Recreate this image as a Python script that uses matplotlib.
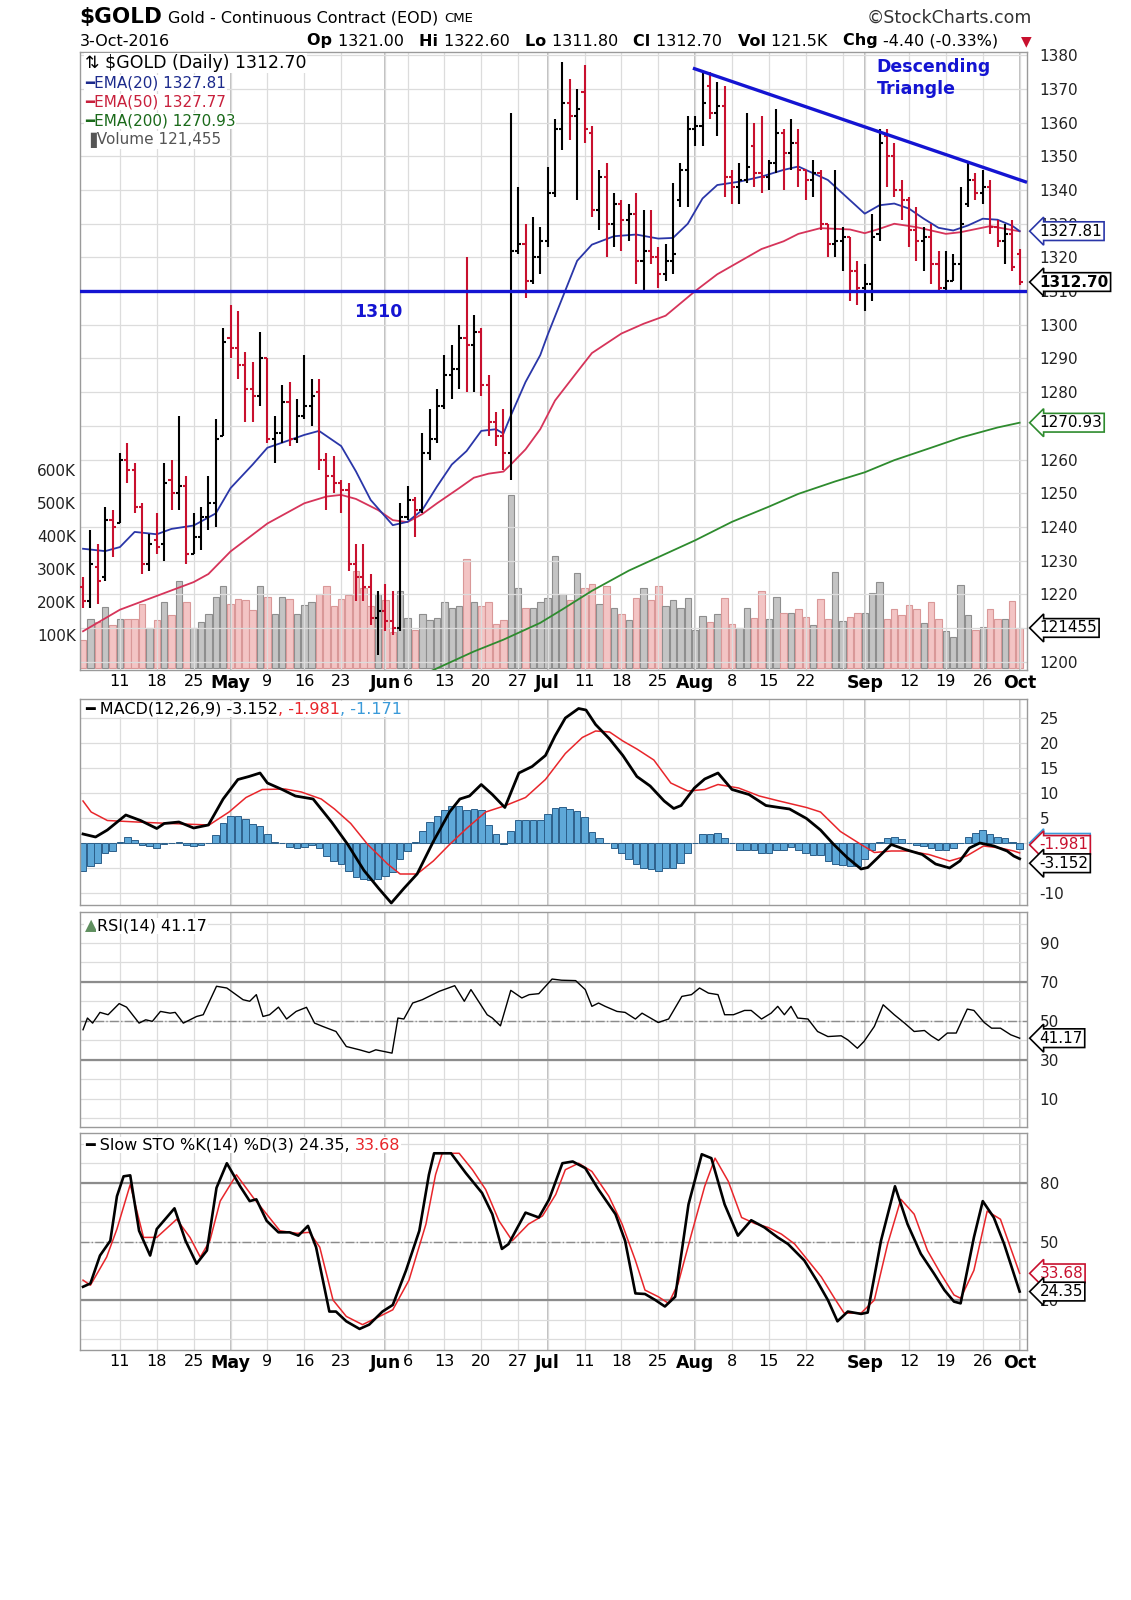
import numpy as np
import pandas as pd
import matplotlib
matplotlib.use("Agg")
import matplotlib.pyplot as plt

# trading days on the chart (Apr 4 - Oct 3 2016, holidays removed)
days = pd.bdate_range("2016-04-04", "2016-10-03")
days = days.drop(pd.to_datetime(["2016-05-30", "2016-07-04", "2016-09-05"]))

opens = [1222, 1218, 1228, 1225, 1242, 1241, 1260, 1257, 1246, 1229,
         1236, 1235, 1254, 1250, 1252, 1232, 1237, 1243, 1247, 1267,
         1296, 1293, 1288, 1281, 1279, 1290, 1266, 1268, 1277, 1266,
         1273, 1276, 1280, 1260, 1255, 1253, 1251, 1229, 1225, 1222,
         1213, 1215, 1212, 1210, 1243, 1248, 1245, 1262, 1266, 1276,
         1285, 1287, 1296, 1294, 1298, 1282, 1271, 1267, 1262, 1322,
         1324, 1313, 1320, 1325, 1339, 1358, 1366, 1362, 1369, 1357,
         1334, 1344, 1330, 1336, 1331, 1333, 1319, 1322, 1320, 1315,
         1319, 1337, 1346, 1358, 1359, 1371, 1363, 1365, 1344, 1341,
         1343, 1353, 1345, 1344, 1348, 1357, 1351, 1354, 1346, 1343,
         1345, 1330, 1324, 1325, 1326, 1316, 1311, 1312, 1327, 1356,
         1350, 1340, 1337, 1328, 1325, 1326, 1318, 1311, 1313, 1318,
         1336, 1343, 1339, 1341, 1329, 1325, 1327, 1321.0]
highs = [1225, 1239, 1235, 1246, 1245, 1262, 1265, 1259, 1247, 1238,
         1244, 1259, 1260, 1273, 1255, 1244, 1246, 1255, 1272, 1299,
         1306, 1304, 1292, 1289, 1298, 1290, 1273, 1282, 1283, 1278,
         1291, 1284, 1284, 1262, 1261, 1254, 1253, 1235, 1235, 1226,
         1221, 1223, 1221, 1247, 1252, 1249, 1268, 1275, 1281, 1291,
         1294, 1300, 1320, 1303, 1299, 1285, 1274, 1275, 1363, 1341,
         1330, 1332, 1329, 1347, 1361, 1378, 1373, 1370, 1377, 1359,
         1346, 1348, 1339, 1337, 1336, 1339, 1334, 1334, 1323, 1324,
         1342, 1348, 1362, 1362, 1375, 1375, 1372, 1371, 1346, 1348,
         1363, 1360, 1362, 1349, 1364, 1358, 1361, 1358, 1346, 1349,
         1346, 1330, 1346, 1329, 1326, 1319, 1318, 1333, 1358, 1358,
         1354, 1343, 1338, 1335, 1329, 1330, 1322, 1322, 1321, 1341,
         1348, 1345, 1346, 1343, 1331, 1330, 1331, 1322.6]
lows = [1216, 1216, 1217, 1224, 1231, 1241, 1253, 1244, 1226, 1227,
        1232, 1230, 1245, 1245, 1229, 1232, 1233, 1239, 1240, 1267,
        1290, 1284, 1271, 1271, 1276, 1265, 1259, 1265, 1264, 1265,
        1272, 1270, 1257, 1245, 1250, 1244, 1227, 1218, 1218, 1211,
        1202, 1209, 1208, 1209, 1242, 1237, 1244, 1260, 1265, 1275,
        1278, 1281, 1280, 1280, 1279, 1267, 1264, 1257, 1254, 1321,
        1308, 1312, 1315, 1323, 1338, 1352, 1355, 1337, 1354, 1332,
        1328, 1320, 1323, 1322, 1325, 1312, 1310, 1318, 1311, 1313,
        1315, 1335, 1335, 1353, 1353, 1361, 1356, 1338, 1336, 1336,
        1342, 1341, 1339, 1340, 1345, 1340, 1346, 1341, 1337, 1338,
        1328, 1320, 1320, 1316, 1307, 1306, 1304, 1307, 1325, 1341,
        1338, 1331, 1323, 1319, 1316, 1312, 1310, 1310, 1313, 1310,
        1335, 1337, 1336, 1327, 1323, 1318, 1316, 1311.8]
closes = [1218, 1229, 1224, 1242, 1240, 1260, 1257, 1246, 1229, 1235,
          1234, 1253, 1250, 1252, 1232, 1237, 1243, 1247, 1266, 1295,
          1293, 1288, 1281, 1279, 1290, 1266, 1268, 1277, 1266, 1273,
          1276, 1279, 1260, 1255, 1253, 1251, 1229, 1225, 1222, 1213,
          1215, 1212, 1210, 1243, 1248, 1245, 1262, 1266, 1276, 1285,
          1287, 1296, 1294, 1298, 1282, 1271, 1267, 1262, 1322, 1324,
          1313, 1320, 1325, 1339, 1358, 1366, 1362, 1364, 1358, 1334,
          1344, 1330, 1336, 1331, 1333, 1319, 1322, 1320, 1315, 1319,
          1321, 1346, 1358, 1359, 1366, 1363, 1365, 1344, 1341, 1343,
          1347, 1345, 1344, 1348, 1357, 1351, 1354, 1346, 1343, 1345,
          1330, 1324, 1325, 1326, 1316, 1311, 1312, 1326, 1354, 1350,
          1340, 1337, 1328, 1325, 1326, 1318, 1311, 1313, 1318, 1330,
          1343, 1339, 1341, 1329, 1325, 1327, 1317.1, 1312.7]
# volume in thousands
volume = [85, 150, 140, 185, 130, 150, 150, 150, 195, 120,
          145, 200, 160, 265, 200, 120, 140, 165, 215, 250,
          195, 210, 205, 175, 250, 215, 165, 215, 210, 165,
          190, 200, 225, 250, 189, 210, 220, 293, 244, 189,
          225, 207, 110, 232, 152, 116, 165, 146, 152, 200,
          183, 189, 329, 200, 189, 200, 134, 146, 524, 244,
          183, 183, 200, 213, 341, 225, 207, 287, 244, 256,
          195, 250, 183, 165, 146, 213, 244, 207, 250, 189,
          207, 183, 213, 116, 159, 140, 165, 213, 134, 122,
          183, 152, 232, 150, 216, 167, 167, 179, 154, 130,
          210, 148, 290, 142, 154, 167, 167, 228, 262, 148,
          179, 160, 191, 179, 136, 200, 148, 111, 93, 253,
          160, 115, 123, 179, 148, 148, 204, 121.455]

# moving averages (day index, value)
ema20_day = [0, 3, 5, 7, 10, 12, 15, 18, 20, 23, 25, 27, 30, 32, 35, 37, 39, 42, 44, 46,
             48, 50, 52, 54, 56, 57, 58, 60, 62, 63, 65, 67, 69, 72, 75, 78, 80, 82, 84, 86,
             89, 92, 95, 97, 99, 101, 104, 106, 108, 110, 112, 114, 116, 118, 120, 122, 124, 126, 127]
ema20_val = [1233.5, 1232.8, 1234, 1238.5, 1237.8, 1239.4, 1240.4, 1244, 1251.5, 1258.5,
             1263.5, 1265, 1267.3, 1268.5, 1264, 1256.5, 1248, 1240.5, 1241.5, 1245,
             1252, 1258.5, 1262.5, 1268.5, 1269, 1267.7, 1273, 1283, 1291, 1297,
             1308, 1319, 1323.8, 1326.3, 1326.8, 1325.6, 1325.8, 1330, 1337.5, 1341.5,
             1342.5, 1344, 1346, 1347, 1345, 1343, 1337, 1333, 1335.5, 1336,
             1334.5, 1331.5, 1328.8, 1328, 1329.5, 1331.5, 1331.2, 1329.4, 1327.81]
ema50_day = [0, 5, 10, 15, 17, 20, 25, 30, 33, 35, 37, 40, 42, 44, 46, 48, 51, 53, 55, 57,
             58, 60, 62, 64, 67, 69, 73, 76, 79, 83, 86, 88, 92, 95, 97, 100, 104, 106, 108,
             110, 113, 117, 119, 123, 127]
ema50_val = [1209, 1215.4, 1219.5, 1223.6, 1226, 1232.7, 1241, 1247, 1249, 1249.5,
             1248.3, 1245, 1242, 1241.4, 1243.8, 1247, 1251.5, 1254.6, 1255.8, 1256.4,
             1258.5, 1263, 1269, 1277.5, 1286, 1291.6, 1297.4, 1300.3, 1302.7, 1310,
             1315, 1317.5, 1322.5, 1324.8, 1327, 1328.7, 1328.3, 1327.2, 1328.5,
             1330, 1329, 1327, 1327.5, 1329.3, 1327.77]
ema200_day = [46, 48, 53, 57, 62, 65, 69, 74, 79, 83, 88, 93, 97, 102, 106, 110, 115, 119, 124, 127]
ema200_val = [1196, 1198, 1203, 1206.5, 1211.5, 1215.5, 1221, 1227, 1232, 1236,
              1241.5, 1246, 1249.8, 1253.5, 1256.2, 1259.8, 1263.5, 1266.5, 1269.5, 1270.93]

# support / resistance drawn on the chart
support_level = 1310
trend_day = [82.7, 128.0]
trend_val = [1376.2, 1342.3]

# MACD(12,26,9)
macd_day = [0, 1.7, 3.3, 5.8, 7.8, 10.0, 11.0, 13.0, 15.0, 17.0, 19.0, 21.0, 22.5, 24.0, 25.0,
            27.0, 28.8, 31.2, 33.7, 35.9, 38.1, 40.1, 41.8, 43.5, 45.3, 47.5, 49.7, 51.1, 52.4,
            54.0, 55.5, 57.2, 59.1, 60.9, 62.7, 64.0, 65.4, 67.2, 68.2, 69.5, 71.4, 73.2, 75.1,
            76.9, 78.8, 80.1, 81.1, 82.9, 84.3, 86.1, 88.0, 90.3, 92.6, 94.4, 95.8, 98.1, 100.0,
            101.8, 103.6, 105.5, 106.4, 107.8, 109.6, 111.5, 113.8, 115.6, 117.5, 118.9, 120.2,
            121.6, 123.5, 125.3, 126.2, 127.0]
macd_val = [1.8, 1.2, 2.6, 5.6, 4.5, 2.9, 3.9, 4.2, 3.0, 3.6, 8.8, 12.7, 13.3, 14.0, 12.0,
            10.7, 9.4, 8.8, 4.2, -0.3, -5.5, -9.1, -12.0, -9.1, -6.2, 0.3, 6.2, 8.8, 9.4,
            11.7, 9.7, 7.1, 14.0, 15.3, 17.5, 21.4, 25.0, 26.9, 26.6, 23.7, 20.8, 17.5, 13.3,
            11.4, 8.4, 6.9, 7.5, 11.0, 12.8, 14.0, 10.7, 9.7, 7.5, 7.1, 6.8, 4.9, 2.6,
            -0.3, -2.9, -5.2, -4.9, -2.9, -0.3, -1.3, -2.3, -4.2, -5.0, -3.6, -1.0,
            0.0, -0.6, -1.6, -2.6, -3.152]
signal_day = [0, 1.1, 3.3, 7.3, 11.8, 17.1, 19.8, 22.1, 24.3, 27.4, 29.6, 32.3, 34.1, 36.3,
              38.6, 41.3, 43.0, 45.3, 47.5, 49.7, 52.0, 54.6, 57.3, 60.0, 62.7, 65.4, 67.7,
              69.5, 71.4, 73.2, 75.1, 77.4, 79.7, 82.0, 84.3, 86.1, 88.9, 91.7, 94.4, 98.1,
              100.0, 102.7, 105.5, 107.3, 109.6, 111.9, 114.7, 117.5, 119.8, 122.1, 124.4,
              126.2, 127.0]
signal_val = [8.4, 6.2, 4.5, 4.2, 3.9, 3.6, 6.2, 9.1, 10.7, 10.8, 10.2, 8.8, 6.8, 3.9,
              -0.3, -4.2, -6.2, -6.2, -3.6, -0.3, 2.9, 6.2, 7.5, 9.1, 12.7, 17.9, 21.1,
              22.4, 22.2, 20.4, 18.8, 16.6, 12.0, 10.4, 10.7, 11.7, 11.0, 9.4, 8.4, 7.1,
              6.2, 2.3, -0.3, -1.9, -1.6, -1.6, -2.3, -3.6, -2.6, -0.6, -1.0,
              -1.6, -1.981]
macd_hist = [-5.5, -4.5, -3.9, -1.9, -1.6, 0.3, 1.2, 0.6, -0.3, -0.6,
             -1.0, -0.2, 0.0, 0.3, -0.3, -0.6, -0.3, 0.0, 1.6, 4.0,
             5.4, 5.4, 4.9, 3.9, 3.4, 1.8, 0.3, 0.0, -0.8, -1.0,
             -0.8, -0.3, -1.0, -2.6, -3.6, -4.2, -5.5, -6.8, -7.1, -7.3,
             -7.1, -6.5, -5.8, -3.2, -1.6, 0.3, 2.4, 4.2, 5.5, 6.7,
             7.5, 7.5, 6.6, 6.8, 6.7, 3.6, 1.8, -0.1, 2.4, 4.7,
             4.7, 4.7, 4.7, 5.8, 7.1, 7.3, 6.8, 6.5, 5.2, 2.3,
             1.0, 0.0, -1.0, -1.9, -3.2, -4.2, -5.0, -5.2, -5.5, -5.0,
             -4.9, -3.9, -1.9, 0.0, 1.8, 1.8, 2.1, 1.0, 0.0, -1.3,
             -1.3, -1.3, -1.9, -1.9, -1.3, -1.3, -0.8, -1.3, -1.9, -2.3,
             -2.3, -3.6, -4.1, -4.4, -4.5, -4.5, -3.2, -1.3, 0.2, 1.0,
             1.2, 0.8, 0.0, -0.3, -0.6, -1.0, -1.3, -1.3, -1.0, 0.0,
             1.3, 2.1, 2.6, 1.9, 1.3, 1.0, 0.3, -1.171]

# RSI(14)
rsi_day = [0, 0.6, 1.3, 2.3, 3.4, 4.9, 5.9, 7.6, 8.5, 9.4, 10.5, 11.8, 12.5, 13.6, 15.4, 16.3,
           18.1, 19.5, 21.7, 22.6, 23.5, 24.4, 25.3, 26.5, 27.6, 28.9, 30.3, 31.4, 32.5, 34.3,
           35.7, 37.5, 38.8, 39.7, 41.9, 42.7, 43.5, 44.7, 46.0, 48.3, 50.4, 51.7, 52.6, 54.8,
           55.5, 56.6, 58.0, 59.5, 60.5, 61.8, 63.6, 64.9, 66.8, 68.1, 69.0, 69.9, 70.8, 72.4,
           73.5, 74.9, 75.8, 78.0, 79.4, 81.2, 82.5, 83.6, 84.8, 86.1, 87.0, 88.2, 89.7, 90.6,
           92.0, 93.3, 94.2, 95.1, 96.0, 96.9, 98.3, 99.6, 101.0, 102.8, 103.7, 105.0, 105.9,
           107.3, 108.5, 110.0, 111.4, 112.7, 114.1, 115.0, 116.0, 117.2, 118.4, 119.9, 120.8,
           122.2, 123.2, 124.4, 125.8, 127.0]
rsi_val = [45.5, 51.5, 48.9, 54.4, 53.2, 58.9, 57.1, 48.9, 50.6, 49.8, 54.9, 54.0, 54.4, 48.9,
           52.3, 53.2, 67.8, 66.9, 60.9, 60.1, 63.5, 52.3, 53.2, 57.1, 51.0, 54.9, 57.0, 48.9,
           47.2, 44.6, 36.9, 35.2, 33.8, 35.2, 33.5, 51.5, 51.0, 59.2, 60.9, 65.2, 68.1, 60.1,
           66.1, 53.2, 51.5, 47.5, 65.7, 61.8, 63.5, 64.0, 71.5, 70.9, 70.7, 66.1, 57.5, 59.2,
           57.5, 54.9, 54.4, 51.0, 54.0, 49.2, 51.0, 62.6, 63.5, 66.9, 64.3, 63.5, 53.2, 53.2,
           55.4, 55.4, 51.0, 54.0, 57.5, 53.2, 57.5, 51.5, 51.0, 44.6, 42.0, 42.4, 40.3, 36.0,
           39.5, 47.2, 58.3, 53.2, 48.9, 44.6, 45.1, 42.4, 40.0, 43.8, 43.8, 56.1, 55.4, 49.2,
           46.3, 46.3, 42.9, 41.17]

# Slow stochastics %K(14) %D(3)
stok_day = [0, 1.0, 2.3, 3.7, 4.6, 5.5, 6.4, 7.6, 9.1, 10.0, 12.4, 13.9, 15.4, 16.8, 18.1,
            19.5, 21.3, 22.6, 23.5, 24.9, 26.5, 28.0, 29.2, 30.5, 31.6, 33.4, 34.3, 35.7, 37.5,
            38.8, 40.6, 42.0, 43.8, 45.6, 46.9, 47.6, 49.9, 51.9, 54.1, 55.5, 56.8, 57.7, 60.0,
            61.8, 63.2, 65.0, 66.4, 68.1, 69.9, 72.2, 73.5, 74.9, 76.2, 77.6, 78.9, 80.3, 82.1,
            83.9, 85.2, 87.0, 88.8, 90.6, 92.4, 94.2, 95.6, 97.8, 99.6, 101.0, 102.3, 103.7,
            105.5, 106.4, 108.2, 110.1, 111.8, 113.6, 115.4, 116.8, 118.1, 119.0, 120.8, 122.0,
            123.5, 124.9, 127.0]
stok_val = [26.8, 28.5, 42.8, 50.4, 73.2, 83.4, 83.9, 55.5, 42.8, 56.4, 67.0, 50.4, 38.6,
            45.4, 77.5, 90.1, 78.3, 70.7, 71.6, 60.6, 54.7, 54.7, 53.0, 58.0, 47.1, 14.1, 14.1,
            9.1, 5.2, 7.4, 14.1, 17.5, 35.2, 55.5, 84.2, 95.2, 95.2, 85.1, 74.9, 64.0, 46.2,
            48.7, 64.8, 62.3, 71.6, 90.1, 91.0, 87.6, 76.6, 64.0, 50.4, 23.4, 23.1, 20.0, 16.7,
            21.7, 69.0, 94.7, 92.7, 69.0, 53.0, 60.9, 57.2, 52.1, 48.7, 40.3, 29.3, 20.0, 9.1,
            14.1, 12.9, 13.6, 50.4, 78.3, 58.9, 43.7, 33.5, 25.1, 19.2, 18.3, 52.1, 70.7, 62.3,
            48.7, 24.35]
stod_day = [0, 1.0, 3.2, 4.6, 6.4, 8.2, 10.0, 12.7, 14.5, 15.9, 17.2, 18.6, 20.8, 23.1, 24.9,
            26.7, 29.0, 30.7, 32.1, 33.9, 35.7, 37.9, 40.2, 42.0, 44.2, 46.5, 47.8, 48.7, 51.0,
            52.8, 54.6, 56.4, 58.2, 60.4, 62.3, 64.1, 65.4, 67.2, 69.0, 71.3, 73.1, 74.9, 76.2,
            78.0, 79.4, 80.7, 82.5, 84.3, 85.7, 87.5, 89.3, 91.1, 92.9, 94.7, 96.5, 98.3, 100.1,
            101.9, 103.2, 105.5, 107.3, 109.1, 110.9, 112.7, 114.5, 116.3, 118.1, 119.0, 120.8,
            122.6, 124.4, 127.0]
stod_val = [30.2, 27.6, 42.0, 56.4, 79.2, 52.1, 52.1, 61.4, 52.1, 42.0, 50.4, 70.7, 84.2, 72.4,
            64.0, 55.5, 54.2, 54.7, 47.1, 20.0, 11.6, 7.4, 11.6, 15.0, 30.2, 58.9, 84.2, 95.2,
            95.2, 86.8, 76.6, 60.6, 50.4, 58.9, 63.1, 74.1, 86.8, 90.1, 85.9, 73.2, 58.9, 40.3,
            25.1, 21.7, 18.3, 28.5, 53.8, 78.3, 92.7, 80.8, 62.3, 59.2, 57.2, 53.8, 48.7, 40.3,
            31.9, 20.9, 13.3, 13.3, 20.0, 48.7, 71.6, 64.0, 45.4, 33.5, 22.6, 20.9, 35.2, 65.6,
            61.4, 33.68]

tick_dates = ["2016-04-11", "2016-04-18", "2016-04-25", "2016-05-02", "2016-05-09",
              "2016-05-16", "2016-05-23", "2016-06-01", "2016-06-06", "2016-06-13",
              "2016-06-20", "2016-06-27", "2016-07-01", "2016-07-11", "2016-07-18",
              "2016-07-25", "2016-08-01", "2016-08-08", "2016-08-15", "2016-08-22",
              "2016-09-01", "2016-09-12", "2016-09-19", "2016-09-26", "2016-10-03"]
tick_text = ["11", "18", "25", "May", "9", "16", "23", "Jun", "6", "13", "20", "27", "Jul",
             "11", "18", "25", "Aug", "8", "15", "22", "Sep", "12", "19", "26", "Oct"]
unlabelled_grid = ["2016-08-29"]

for arr in (opens, highs, lows, closes, volume, macd_hist):
    assert len(arr) == len(days), len(arr)

RED = "#c8102e"
BLUE = "#1414d2"
W, H = 1131, 1600
fig = plt.figure(figsize=(W / 100, H / 100), dpi=100)
plt.rcParams["font.family"] = ["DejaVu Sans"]


def px_box(left, top, right, bottom):
    return [left / W, 1 - bottom / H, (right - left) / W, (bottom - top) / H]


ax_p = fig.add_axes(px_box(80, 52, 1027, 670))
ax_v = ax_p.twinx()
ax_m = fig.add_axes(px_box(80, 699, 1027, 905))
ax_r = fig.add_axes(px_box(80, 912, 1027, 1127))
ax_s = fig.add_axes(px_box(80, 1133, 1027, 1350))

x = np.arange(len(days))
o, h, l, c = (np.array(a, dtype=float) for a in (opens, highs, lows, closes))
prev = np.r_[o[0], c[:-1]]
up = c > prev
bar_col = np.where(up, "black", RED)

tick_pos = [days.get_loc(pd.Timestamp(d)) for d in tick_dates]
extra_pos = [days.get_loc(pd.Timestamp(d)) for d in unlabelled_grid]
month_pos = [p for p, t in zip(tick_pos, tick_text) if not t.isdigit()]


def base_style(ax, yticks, minor=None, hidden=()):
    ax.set_xlim(-0.41, 128.0)
    ax.set_xticks(tick_pos)
    ax.set_xticks(extra_pos, minor=True)
    ax.set_yticks(yticks)
    ax.set_yticklabels(["" if v in hidden else f"{v:g}" for v in yticks])
    if minor is not None:
        ax.set_yticks(minor, minor=True)
    ax.grid(True, which="both", color="#dcdcdc", lw=0.9)
    ax.set_axisbelow(True)
    for m in month_pos:
        ax.axvline(m, color="#b4b4b4", lw=1.2, zorder=0.5)
    ax.yaxis.tick_right()
    ax.tick_params(axis="both", which="both", length=0)
    ax.tick_params(axis="y", pad=9, labelsize=11, labelcolor="#222222")
    for sp in ax.spines.values():
        sp.set_color("#9a9a9a")
        sp.set_linewidth(1.0)


def date_labels(ax):
    ax.set_xticklabels(tick_text)
    ax.tick_params(axis="x", pad=3, labelsize=11.5)
    for lab, t in zip(ax.get_xticklabels(), tick_text):
        if not t.isdigit():
            lab.set_fontweight("bold")
            lab.set_fontsize(12.5)


def tag(ax, y, text, ec, bold=False, tc="black"):
    ax.annotate(text, xy=(1.0, y), xycoords=("axes fraction", "data"),
                xytext=(9, 0), textcoords="offset points", ha="left", va="center",
                fontsize=11, color=tc, fontweight="bold" if bold else "normal",
                bbox=dict(boxstyle="larrow,pad=0.12", fc="white", ec=ec, lw=1.2),
                annotation_clip=False, zorder=20)


# ---------------- price panel ----------------
base_style(ax_p, list(range(1200, 1381, 10)), hidden=(1210, 1270))
ax_p.set_ylim(1197.5, 1381)
date_labels(ax_p)
ax_p.set_zorder(ax_v.get_zorder() + 1)
ax_p.patch.set_visible(False)

ax_v.bar(x, volume, width=0.88, color=np.where(up, "#c4c4c4", "#f3c4c4"),
         edgecolor=np.where(up, "#8e8e8e", "#d99898"), linewidth=0.8)
ax_v.set_ylim(-6, 1867)
ax_v.yaxis.tick_left()
ax_v.set_yticks([100, 200, 300, 400, 500, 600])
ax_v.set_yticklabels(["100K", "200K", "300K", "400K", "500K", "600K"])
ax_v.tick_params(axis="y", length=0, pad=3, labelsize=11, labelcolor="#222222")
for sp in ax_v.spines.values():
    sp.set_visible(False)

ax_p.plot(ema200_day, ema200_val, color="#2e8b2e", lw=1.3, zorder=3)
ax_p.plot(ema50_day, ema50_val, color="#d6345a", lw=1.3, zorder=3)
ax_p.plot(ema20_day, ema20_val, color="#2a36a8", lw=1.3, zorder=3)

ax_p.vlines(x, l, h, colors=bar_col, lw=1.5, zorder=4)
ax_p.hlines(o, x - 0.42, x, colors=bar_col, lw=1.5, zorder=4)
ax_p.hlines(c, x, x + 0.42, colors=bar_col, lw=1.5, zorder=4)

ax_p.axhline(support_level, color=BLUE, lw=2.4, zorder=5)
ax_p.plot(trend_day, trend_val, color=BLUE, lw=2.4, zorder=5, clip_on=False,
          solid_capstyle="butt")
ax_p.text(40, 1303.8, "1310", color=BLUE, fontsize=12.5, fontweight="bold",
          ha="center", va="center", zorder=6)
ax_p.text(107.6, 1379.2, "Descending\nTriangle", color=BLUE, fontsize=12.5,
          fontweight="bold", ha="left", va="top", linespacing=1.25, zorder=6)

tag(ax_p, ema20_val[-1], f"{ema20_val[-1]:.2f}", "#2a36a8")
tag(ax_p, c[-1], f"{c[-1]:.2f}", "black", bold=True)
tag(ax_p, ema200_val[-1], f"{ema200_val[-1]:.2f}", "#2e8b2e")
tag(ax_v, volume[-1], f"{volume[-1] * 1000:.0f}", "black")

# ---------------- MACD ----------------
base_style(ax_m, list(range(-10, 26, 5)), hidden=(0, -5))
ax_m.set_ylim(-12.4, 28.8)
ax_m.tick_params(axis="x", labelbottom=False)
ax_m.bar(x, macd_hist, width=0.9, color="#5ea8d8", edgecolor="#2b5f8a",
         linewidth=0.7, zorder=2)
ax_m.plot(signal_day, signal_val, color="#e8262b", lw=1.1, zorder=3)
ax_m.plot(macd_day, macd_val, color="black", lw=2.0, zorder=4)
tag(ax_m, macd_hist[-1] + 1.2, f"{macd_hist[-1]:.3f}", "#3a9ad9", tc="#3a9ad9")
tag(ax_m, signal_val[-1] + 1.6, f"{signal_val[-1]:.3f}", RED, tc=RED)
tag(ax_m, macd_val[-1] - 0.9, f"{macd_val[-1]:.3f}", "black")

# ---------------- RSI ----------------
base_style(ax_r, [10, 30, 50, 70, 90], minor=[0, 20, 40, 60, 80, 100])
ax_r.set_ylim(-4.4, 105.9)
ax_r.tick_params(axis="x", labelbottom=False)
for lvl in (70, 30):
    ax_r.axhline(lvl, color="#8c8c8c", lw=1.6, zorder=1)
ax_r.axhline(50, color="#8c8c8c", lw=1.0, ls="-.", zorder=1)
ax_r.plot(rsi_day, rsi_val, color="black", lw=1.0, zorder=3)
tag(ax_r, rsi_val[-1], f"{rsi_val[-1]:.2f}", "black")

# ---------------- Slow stochastics ----------------
base_style(ax_s, [20, 50, 80], minor=[0, 10, 30, 40, 60, 70, 90, 100])
ax_s.set_ylim(-5.6, 105.6)
date_labels(ax_s)
for lvl in (80, 20):
    ax_s.axhline(lvl, color="#8c8c8c", lw=1.6, zorder=1)
ax_s.axhline(50, color="#8c8c8c", lw=1.0, ls="-.", zorder=1)
ax_s.plot(stod_day, stod_val, color="#e8262b", lw=1.1, zorder=3)
ax_s.plot(stok_day, stok_val, color="black", lw=1.9, zorder=4)
tag(ax_s, stod_val[-1], f"{stod_val[-1]:.2f}", RED, tc=RED)
tag(ax_s, stok_val[-1], f"{stok_val[-1]:.2f}", "black")

# ---------------- text ----------------
renderer = fig.canvas.get_renderer()


def chain(x_px, y_px, parts, size, bg=False):
    xp = x_px
    for s, color, weight in parts:
        t = fig.text(xp / W, 1 - y_px / H, s, color=color, fontweight=weight,
                     fontsize=size, ha="left", va="center", zorder=30)
        if bg:
            t.set_bbox(dict(fc="white", ec="none", pad=0.6))
        xp += t.get_window_extent(renderer=renderer).width
    return xp


nx = chain(79, 17, [("$GOLD", "black", "bold")], 15.5)
nx = chain(nx + 6, 18, [("Gold - Continuous Contract (EOD)", "black", "normal")], 11.5)
chain(nx + 6, 19, [("CME", "black", "normal")], 9.5)
fig.text(1032 / W, 1 - 18 / H, "\u00a9StockCharts.com", fontsize=12.5, color="#333333",
         ha="right", va="center")
chain(80, 41, [("3-Oct-2016", "black", "normal")], 11.5)
chain(307, 41, [("Op ", "black", "bold"), ("1321.00   ", "black", "normal"),
                ("Hi ", "black", "bold"), ("1322.60   ", "black", "normal"),
                ("Lo ", "black", "bold"), ("1311.80   ", "black", "normal"),
                ("Cl ", "black", "bold"), ("1312.70   ", "black", "normal"),
                ("Vol ", "black", "bold"), ("121.5K   ", "black", "normal"),
                ("Chg ", "black", "bold"), ("-4.40 (-0.33%)", "black", "normal")], 11.5)
fig.text(1026 / W, 1 - 41 / H, "\u25bc", color=RED, fontsize=10, ha="center", va="center")

chain(85, 63, [("\u21c5 $GOLD (Daily) 1312.70", "black", "normal")], 12.5, bg=True)
chain(85, 83, [("\u2501EMA(20) 1327.81", "#1c2a8c", "normal")], 11, bg=True)
chain(85, 102, [("\u2501EMA(50) 1327.77", "#c8203c", "normal")], 11, bg=True)
chain(85, 121, [("\u2501EMA(200) 1270.93", "#1a6a1a", "normal")], 11, bg=True)
chain(85, 140, [("\u2590Volume 121,455", "#555555", "normal")], 11, bg=True)

chain(85, 709, [("\u2501 MACD(12,26,9) -3.152", "black", "normal"),
                (", -1.981", "#e8262b", "normal"),
                (", -1.171", "#3a9ad9", "normal")], 11.5, bg=True)
chain(85, 926, [("\u25b2", "#5f8f5f", "normal"), ("RSI(14) 41.17", "black", "normal")],
      11.5, bg=True)
chain(85, 1145, [("\u2501 Slow STO %K(14) %D(3) 24.35, ", "black", "normal"),
                 ("33.68", "#e8262b", "normal")], 11.5, bg=True)

fig.savefig("out.png", dpi=100, facecolor="white")
